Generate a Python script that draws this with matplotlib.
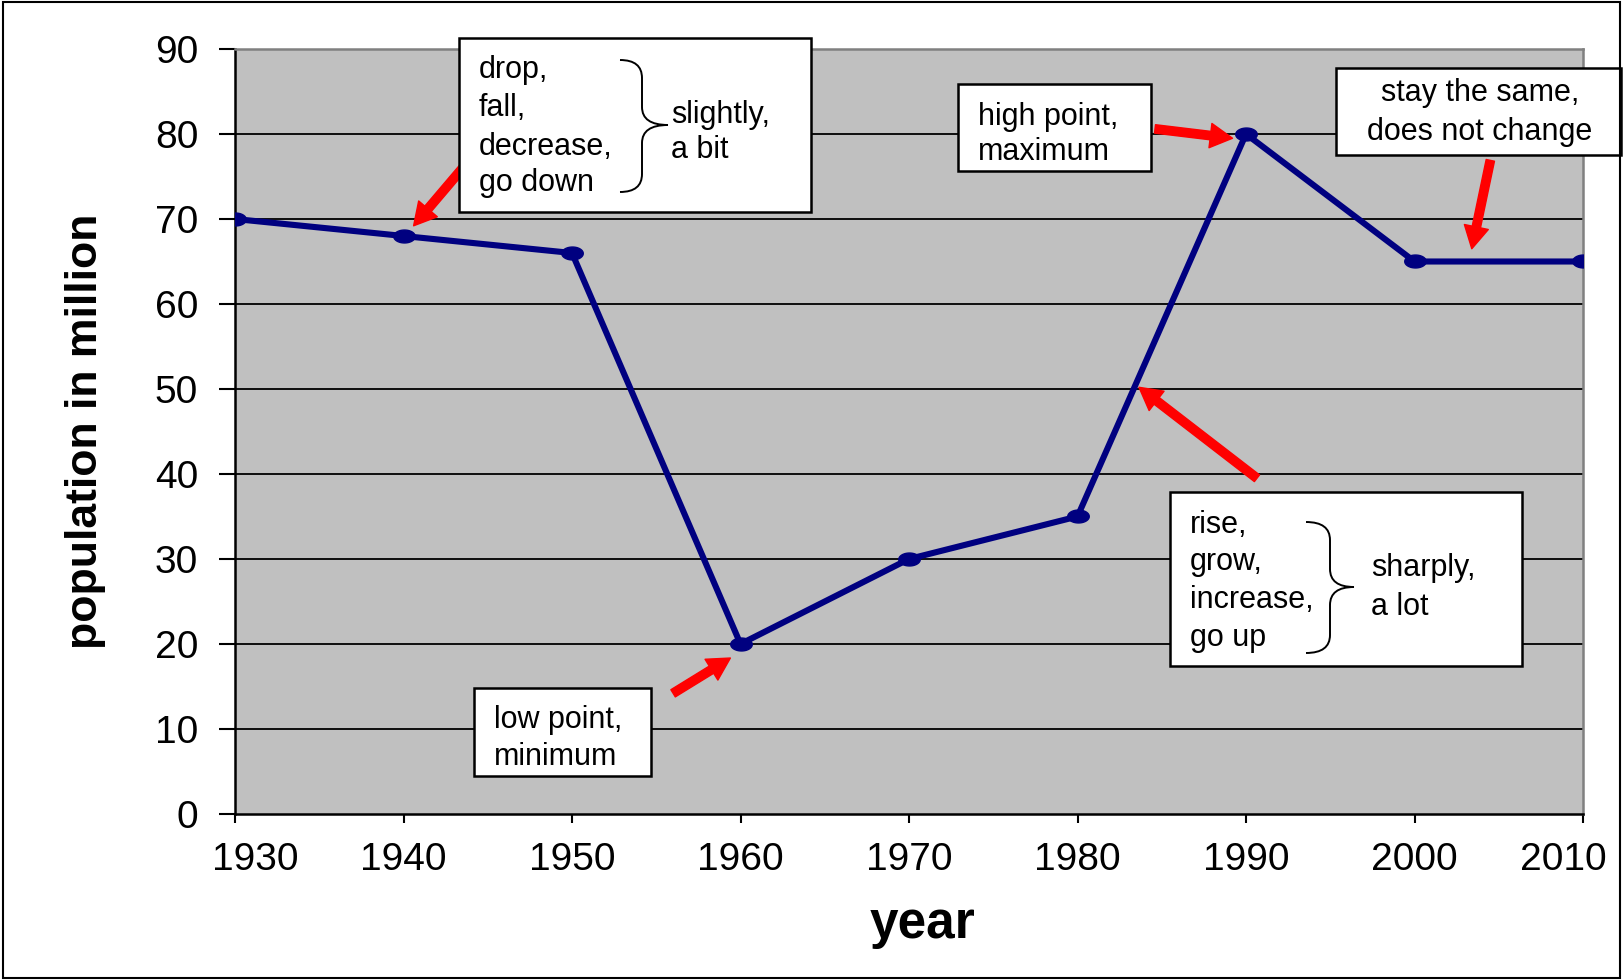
import numpy as np
import matplotlib.pyplot as plt
from matplotlib.path import Path
from matplotlib.patches import Rectangle, PathPatch, FancyArrowPatch
from matplotlib.transforms import ScaledTranslation

plt.rcParams['font.family'] = ['Liberation Sans', 'DejaVu Sans']

years = [1930, 1940, 1950, 1960, 1970, 1980, 1990, 2000, 2010]
population = [70, 68, 66, 20, 30, 35, 80, 65, 65]
y_ticks = [0, 10, 20, 30, 40, 50, 60, 70, 80, 90]

W, H = 1623, 980
fig = plt.figure(figsize=(W / 100, H / 100), dpi=100)
ax = fig.add_axes([235 / W, 1 - 814 / H, 1348 / W, 765 / H])


# pixel position (from top left of the image) -> figure fraction
def px(x, y):
    return x / W, 1 - y / H


# ellipse shaped marker like the excel one
t = np.linspace(0, 2 * np.pi, 60)
ellipse = Path(np.column_stack([np.cos(t), 0.6 * np.sin(t)]), closed=True)

ax.set_facecolor('#C0C0C0')
for v in y_ticks[1:-1]:
    ax.axhline(v, color='black', lw=1.3, zorder=1)
ax.plot(years, population, color='#000080', lw=4.4, marker=ellipse, ms=15.5,
        zorder=3, solid_joinstyle='round')

ax.set_xlim(1930, 2010)
ax.set_ylim(0, 90)
ax.set_xticks(years)
ax.set_yticks(y_ticks)
ax.tick_params(axis='y', length=11.5, width=1.5, pad=15, labelsize=28)
ax.tick_params(axis='x', length=6.5, width=1.5, pad=14, labelsize=28)
# excel pushes the end labels inwards
xlabels = ax.get_xticklabels()
xlabels[0].set_transform(xlabels[0].get_transform() + ScaledTranslation(0.2, 0, fig.dpi_scale_trans))
xlabels[-1].set_transform(xlabels[-1].get_transform() + ScaledTranslation(-0.2, 0, fig.dpi_scale_trans))
for s in ['left', 'bottom']:
    ax.spines[s].set_color('black')
    ax.spines[s].set_linewidth(1.8)
for s in ['top', 'right']:
    ax.spines[s].set_color('#808080')
    ax.spines[s].set_linewidth(1.8)

ax.set_ylabel('population in million', fontsize=32, fontweight='bold')
ax.yaxis.set_label_coords(-0.096, 0.5)
ax.set_xlabel('year', fontsize=37, fontweight='bold')
ax.xaxis.set_label_coords(0.51, -0.112)

# red arrows (tail -> tip in data coords)
arrows = [((1943.9, 76.9), (1940.6, 69.2)),
          ((1956.0, 14.2), (1959.4, 18.35)),
          ((1984.6, 80.6), (1989.2, 79.5)),
          ((1990.65, 39.5), (1983.65, 50.2)),
          ((2004.5, 76.9), (2003.4, 66.5))]
for tail, tip in arrows:
    ax.add_patch(FancyArrowPatch(tail, tip, arrowstyle='simple,head_length=1.0,head_width=1.1,tail_width=0.38',
                                 mutation_scale=16, color='#FF0000', shrinkA=0, shrinkB=0, zorder=4))


def box(x0, y0, x1, y1):
    (a, b), (c, d) = px(x0, y1), px(x1, y0)
    fig.add_artist(Rectangle((a, b), c - a, d - b, transform=fig.transFigure, facecolor='white',
                             edgecolor='black', lw=1.8, zorder=5))


def lines(x, ys, words, ha='left'):
    for yy, w in zip(ys, words):
        fig.text(*px(x, yy), w, fontsize=22, ha=ha, va='center', zorder=6)


def brace(x0, xv, xt, ytop, ytip, ybot, r=18):
    pts = [(x0, ytop), (xv, ytop), (xv, ytop + r), (xv, ytip - r), (xv, ytip), (xt, ytip),
           (xv, ytip), (xv, ytip + r), (xv, ybot - r), (xv, ybot), (x0, ybot)]
    codes = [Path.MOVETO, Path.CURVE3, Path.CURVE3, Path.LINETO, Path.CURVE3, Path.CURVE3,
             Path.CURVE3, Path.CURVE3, Path.LINETO, Path.CURVE3, Path.CURVE3]
    p = Path([px(*q) for q in pts], codes)
    fig.add_artist(PathPatch(p, transform=fig.transFigure, fill=False, edgecolor='black',
                             lw=1.4, zorder=6))


box(459, 38, 811, 212)
lines(479, [70, 108, 147, 183], ['drop,', 'fall,', 'decrease,', 'go down'])
brace(620, 642, 668, 60, 125, 192)
lines(671, [115, 150], ['slightly,', 'a bit'])

box(1170, 492, 1522, 666)
lines(1190, [525, 562, 600, 638], ['rise,', 'grow,', 'increase,', 'go up'])
brace(1306, 1330, 1354, 522, 587, 653)
lines(1371, [568, 607], ['sharply,', 'a lot'])

box(474, 688, 651, 776)
lines(494, [720, 757], ['low point,', 'minimum'])

box(958, 84, 1151, 171)
lines(978, [117, 152], ['high point,', 'maximum'])

box(1336, 68, 1621, 155)
lines(1480, [93, 132], ['stay the same,', 'does not change'], ha='center')

# outer frame of the chart
fig.add_artist(Rectangle((0.002, 0.002), 0.996, 0.996, transform=fig.transFigure, fill=False,
                         edgecolor='black', lw=1.5, zorder=10))

plt.savefig('out.png', dpi=100)
